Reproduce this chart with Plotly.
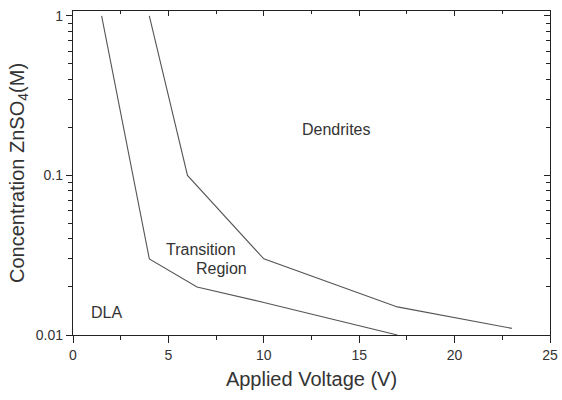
import math
import plotly.graph_objects as go

# DLA / Transition boundary
dla_v = [1.5, 4.0, 6.5, 10.0, 17.0]
dla_c = [1.0, 0.03, 0.02, 0.016, 0.01]
# Transition / Dendrites boundary
den_v = [4.0, 6.0, 10.0, 17.0, 23.0]
den_c = [1.0, 0.1, 0.03, 0.015, 0.011]

labels = ["Dendrites", "Transition", "Region", "DLA"]
label_v = [13.8, 6.69, 7.76, 1.73]
label_c = [0.195, 0.0346, 0.0262, 0.0138]

x_ticks = [0, 5, 10, 15, 20, 25]
x_minor = [2.5, 7.5, 12.5, 17.5, 22.5]
y_ticks = [0.01, 0.1, 1]
y_ticktext = ["0.01", "0.1", "1"]
y_minor = [0.02, 0.03, 0.04, 0.05, 0.06, 0.07, 0.08, 0.09,
           0.2, 0.3, 0.4, 0.5, 0.6, 0.7, 0.8, 0.9]

FONT = "Arial, 'Liberation Sans', sans-serif"
LINE = "#555555"
AX = "#222222"

fig = go.Figure()
fig.add_trace(go.Scatter(x=dla_v, y=dla_c, mode="lines", xaxis="x", yaxis="y",
                         line=dict(color=LINE, width=1.1), showlegend=False))
fig.add_trace(go.Scatter(x=den_v, y=den_c, mode="lines", xaxis="x2", yaxis="y2",
                         line=dict(color=LINE, width=1.1), showlegend=False))

for t, xv, yv in zip(labels, label_v, label_c):
    fig.add_annotation(x=xv, y=math.log10(yv), text=t, showarrow=False,
                       xref="x", yref="y",
                       font=dict(family=FONT, size=16, color="#333333"))

yr = [-2, 0.031]
fig.update_layout(
    template="none",
    width=562, height=400,
    margin=dict(l=73, r=12, t=11, b=65, autoexpand=False),
    paper_bgcolor="white", plot_bgcolor="white",
    font=dict(family=FONT, color="#333333"),
    xaxis=dict(range=[0, 25], tickvals=x_ticks, ticks="outside", ticklen=7,
               tickwidth=1.2, tickcolor=AX, showline=True, linecolor=AX,
               linewidth=1.4, showgrid=False, zeroline=False, automargin=False,
               tickfont=dict(size=14, color="#333333"),
               minor=dict(tickvals=x_minor, ticks="outside", ticklen=4,
                          tickcolor=AX, showgrid=False),
               title=dict(text="Applied Voltage (V)", font=dict(size=20), standoff=9)),
    yaxis=dict(type="log", range=yr, tickvals=y_ticks, ticktext=y_ticktext,
               ticks="outside", ticklen=6, tickwidth=1.2, tickcolor=AX,
               showline=True, linecolor=AX, linewidth=1.4, showgrid=False,
               zeroline=False, automargin=False, tickfont=dict(size=14, color="#333333"),
               minor=dict(tickvals=y_minor, ticks="outside", ticklen=4,
                          tickcolor=AX, showgrid=False),
               title=dict(text="Concentration ZnSO<sub>4</sub>(M)", font=dict(size=20), standoff=5)),
    xaxis2=dict(range=[0, 25], overlaying="x", side="top", anchor="y2",
                tickvals=x_ticks, ticks="inside", ticklen=5, tickcolor=AX,
                showticklabels=False, showline=True, linecolor=AX, linewidth=1.4,
                showgrid=False, zeroline=False, automargin=False,
                minor=dict(tickvals=x_minor, ticks="inside", ticklen=3,
                           tickcolor=AX, showgrid=False)),
    yaxis2=dict(type="log", range=yr, overlaying="y", side="right", anchor="x2",
                tickvals=y_ticks, ticks="inside", ticklen=6, tickcolor=AX,
                showticklabels=False, showline=True, linecolor=AX, linewidth=1.4,
                showgrid=False, zeroline=False, automargin=False,
                minor=dict(tickvals=y_minor, ticks="inside", ticklen=4,
                           tickcolor=AX, showgrid=False)),
)

fig.write_html("out.html")
